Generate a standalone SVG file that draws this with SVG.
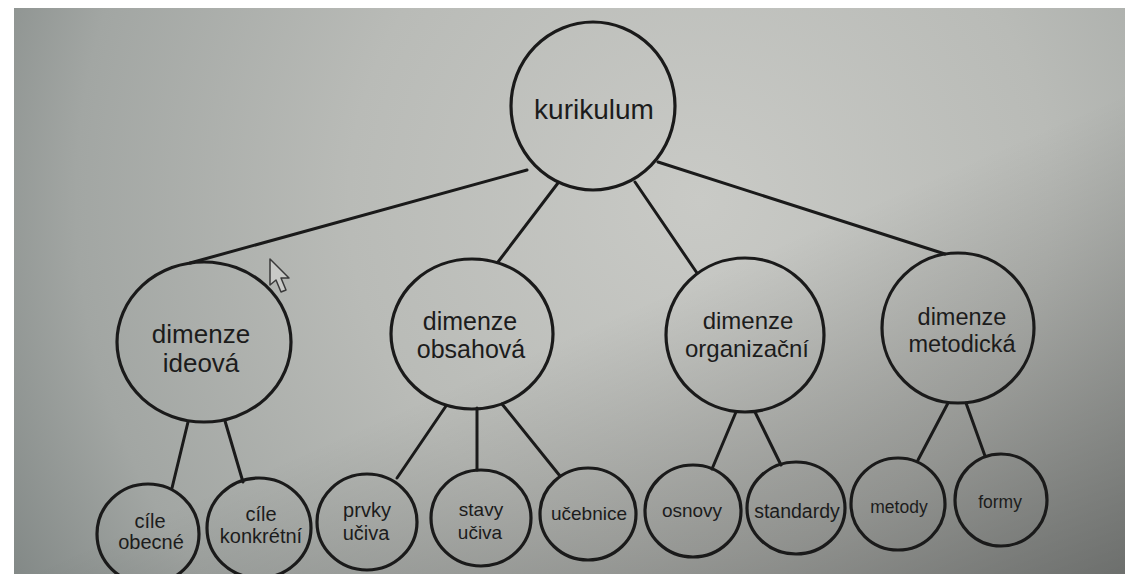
<svg xmlns="http://www.w3.org/2000/svg" width="1125" height="574" viewBox="0 0 1125 574">
  <defs>
    <radialGradient id="bg" cx="700" cy="200" r="780" gradientUnits="userSpaceOnUse">
      <stop offset="0" stop-color="#c9cac6"/>
      <stop offset="0.45" stop-color="#b9bbb7"/>
      <stop offset="0.8" stop-color="#a2a6a3"/>
      <stop offset="1" stop-color="#838987"/>
    </radialGradient>
    <linearGradient id="shade" x1="0.4" y1="0.3" x2="1" y2="1">
      <stop offset="0.3" stop-color="#000" stop-opacity="0"/>
      <stop offset="1" stop-color="#000" stop-opacity="0.35"/>
    </linearGradient>
  </defs>
  <style>
    .n { fill: none; stroke: #1a1a1a; stroke-width: 3.2; }
    .e { stroke: #1a1a1a; stroke-width: 3; stroke-linecap: round; fill: none; }
    text { font-family: "Liberation Sans", Arial, sans-serif; fill: #1c1c1c; text-anchor: middle; }
    .big { font-size: 25px; }
    .sm { font-size: 19px; }
  </style>
  <rect x="0" y="0" width="1125" height="574" fill="#ffffff"/>
  <rect x="14" y="8" width="1111" height="566" fill="url(#bg)"/>
  <rect x="14" y="8" width="1111" height="566" fill="url(#shade)"/>

  <g id="connectors">
    <line class="e" x1="527" y1="170" x2="190" y2="263"/>
    <line class="e" x1="558" y1="183" x2="498" y2="262"/>
    <line class="e" x1="635" y1="182" x2="697" y2="273"/>
    <line class="e" x1="658" y1="162" x2="945" y2="254"/>
    <line class="e" x1="188" y1="422" x2="172" y2="488"/>
    <line class="e" x1="225" y1="421" x2="243" y2="482"/>
    <line class="e" x1="446" y1="406" x2="397" y2="478"/>
    <line class="e" x1="477" y1="408" x2="477" y2="470"/>
    <line class="e" x1="502" y1="404" x2="560" y2="476"/>
    <line class="e" x1="736" y1="412" x2="712" y2="469"/>
    <line class="e" x1="755" y1="412" x2="781" y2="465"/>
    <line class="e" x1="948" y1="403" x2="918" y2="460"/>
    <line class="e" x1="966" y1="403" x2="985" y2="456"/>
  </g>

  <g id="kurikulum">
    <ellipse class="n" cx="593" cy="106" rx="82" ry="84"/>
    <text x="594" y="119" style="font-size:28px">kurikulum</text>
  </g>

  <g id="ideova">
    <ellipse class="n" cx="204" cy="342" rx="87" ry="80"/>
    <text class="big" x="201" y="343" style="font-size:26px">dimenze</text>
    <text class="big" x="201" y="372" style="font-size:26px">ideová</text>
  </g>
  <g id="obsahova">
    <ellipse class="n" cx="472" cy="334" rx="81" ry="75"/>
    <text class="big" x="470" y="330">dimenze</text>
    <text class="big" x="471" y="358">obsahová</text>
  </g>
  <g id="organizacni">
    <ellipse class="n" cx="745" cy="335" rx="79" ry="77"/>
    <text class="big" x="748" y="329" style="font-size:24px">dimenze</text>
    <text class="big" x="747" y="357" style="font-size:24px">organizační</text>
  </g>
  <g id="metodicka">
    <ellipse class="n" cx="958" cy="328" rx="76" ry="75"/>
    <text class="big" x="962" y="325" style="font-size:23.5px">dimenze</text>
    <text class="big" x="962" y="352" style="font-size:23.5px">metodická</text>
  </g>

  <g id="cile-obecne">
    <ellipse class="n" cx="148" cy="534" rx="51" ry="50"/>
    <text class="sm" x="150" y="528" style="font-size:20px">cíle</text>
    <text class="sm" x="151" y="549" style="font-size:20px">obecné</text>
  </g>
  <g id="cile-konkretni">
    <ellipse class="n" cx="259" cy="528" rx="52" ry="50"/>
    <text class="sm" x="261" y="521" style="font-size:20px">cíle</text>
    <text class="sm" x="261" y="543" style="font-size:20px">konkrétní</text>
  </g>
  <g id="prvky-uciva">
    <ellipse class="n" cx="367" cy="522" rx="50" ry="48"/>
    <text class="sm" x="367" y="517" style="font-size:20px">prvky</text>
    <text class="sm" x="366" y="540" style="font-size:20px">učiva</text>
  </g>
  <g id="stavy-uciva">
    <ellipse class="n" cx="481" cy="518" rx="50" ry="48"/>
    <text class="sm" x="481" y="516">stavy</text>
    <text class="sm" x="480" y="539">učiva</text>
  </g>
  <g id="ucebnice">
    <ellipse class="n" cx="588" cy="514" rx="48" ry="46"/>
    <text class="sm" x="589" y="520">učebnice</text>
  </g>
  <g id="osnovy">
    <ellipse class="n" cx="693" cy="511" rx="48" ry="46"/>
    <text class="sm" x="692" y="517">osnovy</text>
  </g>
  <g id="standardy">
    <ellipse class="n" cx="796" cy="508" rx="49" ry="46"/>
    <text class="sm" x="797" y="518" style="font-size:19.5px">standardy</text>
  </g>
  <g id="metody">
    <ellipse class="n" cx="898" cy="504" rx="47" ry="46"/>
    <text class="sm" x="899" y="513" style="font-size:17.5px">metody</text>
  </g>
  <g id="formy">
    <ellipse class="n" cx="1001" cy="500" rx="46" ry="46"/>
    <text class="sm" x="1000" y="508" style="font-size:17.5px">formy</text>
  </g>

  <path d="M270,259 L270,285 L276,280 L281,292 L286,290 L281,278 L289,278 Z" fill="#c9cac7" stroke="#3a3a3a" stroke-width="1.5" stroke-linejoin="round"/>
</svg>
